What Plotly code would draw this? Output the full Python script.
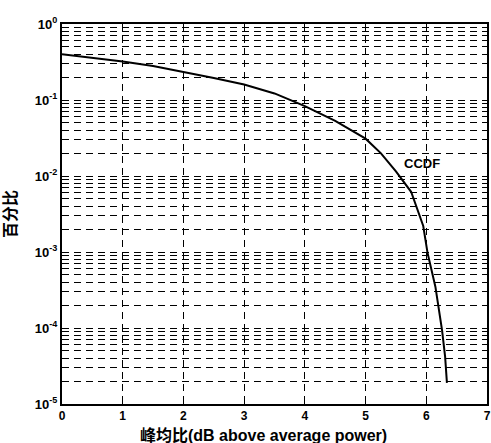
import plotly.graph_objects as go

# Data (PAPR in dB vs CCDF probability)
papr_db = [0, 0.5, 1, 1.5, 2, 2.5, 3, 3.5, 4, 4.5, 5, 5.25, 5.5, 5.75, 5.95, 6.02, 6.15, 6.26, 6.31, 6.34]
ccdf = [0.40, 0.36, 0.32, 0.28, 0.235, 0.195, 0.16, 0.122, 0.083, 0.053, 0.031, 0.020, 0.0115,
        0.0062, 0.0022, 0.00098, 0.00035, 0.000093, 0.000042, 0.000019]

x_ticks = [0, 1, 2, 3, 4, 5, 6, 7]
y_exps = [0, -1, -2, -3, -4, -5]
y_tickvals = [10 ** e for e in y_exps]
y_ticktext = ["10<sup>%d</sup>" % e for e in y_exps]
y_minor = [m * 10 ** e for e in [-5, -4, -3, -2, -1] for m in range(2, 10)]

FONT = "Liberation Sans, Arial, Noto Sans CJK SC"
DASH = "7px,5px"

fig = go.Figure()
fig.add_trace(go.Scatter(x=papr_db, y=ccdf, mode="lines",
                         line=dict(color="black", width=2), showlegend=False))

fig.add_annotation(x=5.93, y=-1.83, xref="x", yref="y", text="<b>CCDF</b>",
                   showarrow=False, font=dict(family=FONT, size=13, color="black"))

# x-axis title placed like the reference (slightly left of plot centre)
fig.add_annotation(x=0.473, y=-0.082, xref="paper", yref="paper",
                   text="<b>峰均比(dB above average power)</b>", showarrow=False,
                   xanchor="center", yanchor="middle",
                   font=dict(family=FONT, size=16, color="black"))

fig.update_layout(
    width=491, height=443,
    margin=dict(l=62, r=4, t=24, b=39),
    paper_bgcolor="white", plot_bgcolor="white",
    font=dict(family=FONT, color="black"),
)
fig.update_xaxes(
    range=[0, 7], tickvals=x_ticks, ticktext=["<b>%d</b>" % v for v in x_ticks],
    showgrid=True, gridcolor="black", griddash=DASH, gridwidth=1,
    showline=True, linecolor="black", linewidth=2, mirror="ticks",
    ticks="inside", ticklen=4, tickcolor="black", zeroline=False,
    tickfont=dict(size=12, family=FONT), automargin=False,
)
fig.update_yaxes(
    type="log", range=[-5, 0], tickvals=y_tickvals, ticktext=["<b>%s</b>" % t for t in y_ticktext],
    showgrid=True, gridcolor="black", griddash=DASH, gridwidth=1,
    showline=True, linecolor="black", linewidth=2, mirror="ticks",
    ticks="inside", ticklen=4, tickcolor="black", zeroline=False,
    tickfont=dict(size=13, family=FONT), automargin=False,
    minor=dict(tickvals=y_minor, showgrid=True, gridcolor="black", griddash=DASH,
               gridwidth=1, ticks="inside", ticklen=2, tickcolor="black"),
    title=dict(text="<b>百分比</b>", font=dict(size=16, family=FONT), standoff=14),
)

fig.write_html("out.html", config={"displayModeBar": False},
               post_script="document.body.style.margin='0';document.body.style.overflow='hidden';")
